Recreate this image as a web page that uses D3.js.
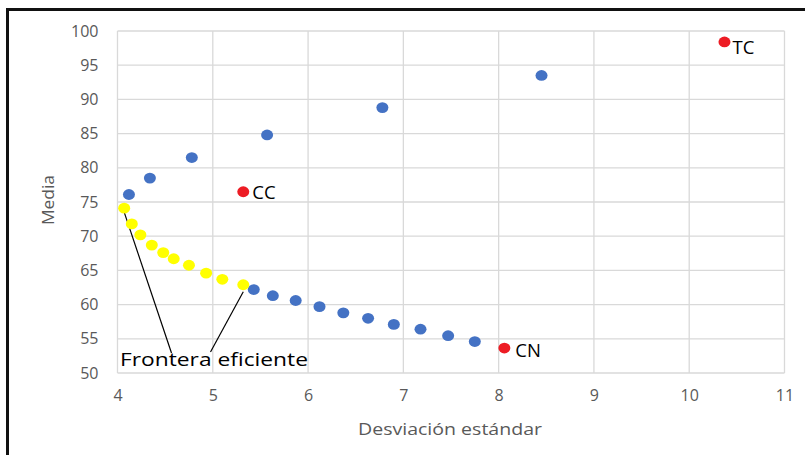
<!DOCTYPE html>
<html><head><meta charset="utf-8">
<script src="https://cdn.jsdelivr.net/npm/d3@7"></script>
<style>body{margin:0;background:#fff}svg{display:block}</style>
</head><body>
<svg id="c" width="805" height="455"></svg>
<script>
// Portfolio (blue) points: [desviación, media]
const blueX = [4.12,4.34,4.78,5.57,6.78,8.45,5.43,5.63,5.87,6.12,6.37,6.63,6.90,7.18,7.47,7.75];
const blueY = [76.1,78.5,81.5,84.8,88.8,93.5,62.2,61.3,60.6,59.7,58.8,58.0,57.1,56.4,55.45,54.6];
// Efficient frontier (yellow)
const frontX = [4.07,4.15,4.24,4.36,4.48,4.59,4.75,4.93,5.10,5.32];
const frontY = [74.1,71.8,70.2,68.7,67.6,66.7,65.75,64.6,63.7,62.9];
// Individual assets (red)
const assetNames = ["CC","TC","CN"];
const assetX = [5.32,10.37,8.06];
const assetY = [76.5,98.4,53.65];
const xTicks = [4,5,6,7,8,9,10,11];
const yTicks = [50,55,60,65,70,75,80,85,90,95,100];
const xTitle = "Desviación estándar";
const yTitle = "Media";
const annot = "Frontera eficiente";

const svg = d3.select("#c");
const font = "'Open Sans', sans-serif";
const x = d3.scaleLinear().domain([4,11]).range([117.5,784.5]);
const y = d3.scaleLinear().domain([50,100]).range([373,31]);

// frame (top/left black border)
svg.append("line").attr("x1",7.5).attr("x2",7.5).attr("y1",8).attr("y2",455).attr("stroke","#111").attr("stroke-width",3);
svg.append("line").attr("x1",6).attr("x2",805).attr("y1",9.5).attr("y2",9.5).attr("stroke","#111").attr("stroke-width",3);

// grid
const g = svg.append("g");
g.selectAll("line.v").data(xTicks).join("line").attr("class","v")
 .attr("x1",d=>x(d)).attr("x2",d=>x(d)).attr("y1",y(100)).attr("y2",y(50))
 .attr("stroke","#d9d9d9").attr("stroke-width",1.3);
g.selectAll("line.h").data(yTicks).join("line").attr("class","h")
 .attr("x1",x(4)).attr("x2",x(11)).attr("y1",d=>y(d)).attr("y2",d=>y(d))
 .attr("stroke","#d9d9d9").attr("stroke-width",1.3);

// axes
const xa = svg.append("g").attr("transform",`translate(0,${y(50)})`)
 .call(d3.axisBottom(x).tickValues(xTicks).tickSize(0).tickPadding(17).tickFormat(d3.format("d")));
const ya = svg.append("g").attr("transform",`translate(${x(4)},0)`)
 .call(d3.axisLeft(y).tickValues(yTicks).tickSize(0).tickPadding(19).tickFormat(d3.format("d")));
[xa,ya].forEach(a=>{a.select(".domain").remove();
 a.selectAll("text").attr("fill","#595959").style("font-family",font).style("font-size","16px");});

// titles
svg.append("text").attr("x",358).attr("y",435).attr("textLength",184).attr("lengthAdjust","spacingAndGlyphs")
 .attr("fill","#595959").style("font-family",font).style("font-size","15.5px").text(xTitle);
svg.append("text").attr("transform","translate(54,225) rotate(-90)").attr("textLength",50).attr("lengthAdjust","spacingAndGlyphs")
 .attr("fill","#595959").style("font-family",font).style("font-size","16px").text(yTitle);

// annotation leader lines
const f0 = 0, f1 = frontX.length-1;
svg.append("line").attr("x1",x(frontX[f0])).attr("y1",y(frontY[f0])+4).attr("x2",171.5).attr("y2",353)
 .attr("stroke","#000").attr("stroke-width",1.2);
svg.append("line").attr("x1",x(frontX[f1])).attr("y1",y(frontY[f1])+7).attr("x2",210.5).attr("y2",352)
 .attr("stroke","#000").attr("stroke-width",1.2);

// points
const pts = svg.append("g");
pts.selectAll("ellipse.b").data(blueX).join("ellipse").attr("class","b")
 .attr("cx",(d)=>x(d)).attr("cy",(d,i)=>y(blueY[i])).attr("rx",6).attr("ry",5.4).attr("fill","#4472C4");
pts.selectAll("ellipse.yel").data(frontX).join("ellipse").attr("class","yel")
 .attr("cx",(d)=>x(d)).attr("cy",(d,i)=>y(frontY[i])).attr("rx",6).attr("ry",5.4).attr("fill","#FFFF00");
pts.selectAll("ellipse.r").data(assetX).join("ellipse").attr("class","r")
 .attr("cx",(d)=>x(d)).attr("cy",(d,i)=>y(assetY[i])).attr("rx",6).attr("ry",5.4).attr("fill","#ED1C24");

// asset labels
const lblOff = [[9,7],[8,12],[11,9]];
svg.selectAll("text.al").data(assetNames).join("text").attr("class","al")
 .attr("x",(d,i)=>x(assetX[i])+lblOff[i][0]).attr("y",(d,i)=>y(assetY[i])+lblOff[i][1])
 .attr("fill","#000").style("font-family",font).style("font-size","18.5px").text(d=>d);

// annotation text
svg.append("text").attr("x",120).attr("y",366).attr("textLength",188).attr("lengthAdjust","spacingAndGlyphs")
 .attr("fill","#000").style("font-family",font).style("font-size","18px").text(annot);
</script>
</body></html>
